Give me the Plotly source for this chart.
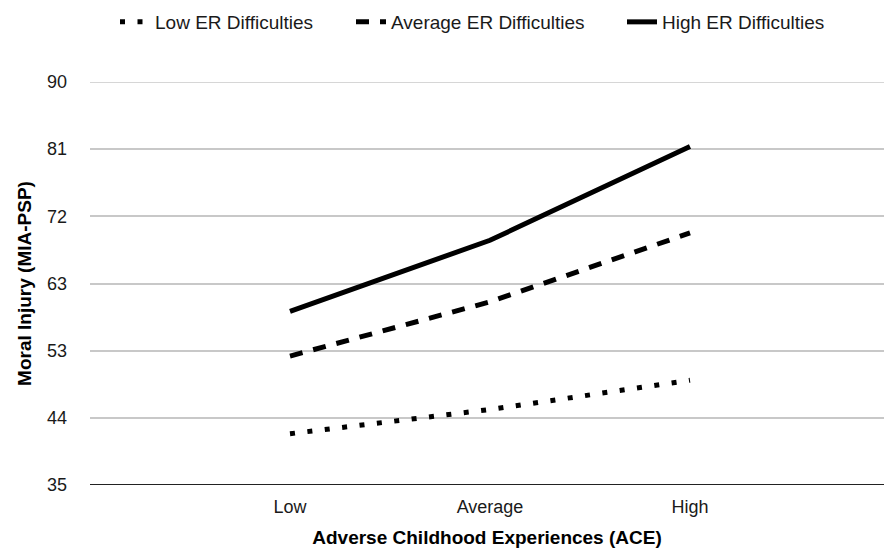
import plotly.graph_objects as go

categories = ["Low", "Average", "High"]
low_er = [42.0, 45.3, 49.3]
avg_er = [52.6, 60.0, 69.4]
high_er = [58.7, 68.4, 81.2]
series_names = ["Low ER Difficulties", "Average ER Difficulties", "High ER Difficulties"]
y_tickvals = [35 + i * 55 / 6 for i in range(7)]
y_ticktext = ["35", "44", "53", "63", "72", "81", "90"]

FONT = "Liberation Sans, Arial, Helvetica, sans-serif"
INK = "#1a1a1a"
GRID = "#c8c8c8"

fig = go.Figure()
styles = [
    dict(dash="5px,12.5px", width=5, legend="legend", lx=115),
    dict(dash="13px,11px", width=5, legend="legend2", lx=351),
    dict(dash="solid", width=5, legend="legend3", lx=622),
]
for name, vals, st in zip(series_names, [low_er, avg_er, high_er], styles):
    fig.add_trace(go.Scatter(
        x=categories, y=vals, mode="lines", name=name, legend=st["legend"],
        line=dict(color="black", width=st["width"], dash=st["dash"]),
        hoverinfo="skip",
    ))

legend_common = dict(
    orientation="h", xref="container", yref="container",
    xanchor="left", y=1 - 22 / 552, yanchor="middle",
    font=dict(size=19, color=INK), bgcolor="rgba(0,0,0,0)",
    itemclick=False, itemdoubleclick=False,
)
fig.update_layout(
    width=884, height=552,
    margin=dict(l=90, r=0, t=82, b=67),
    paper_bgcolor="white", plot_bgcolor="white",
    font=dict(family=FONT, size=18, color=INK),
    showlegend=True,
    legend=dict(x=styles[0]["lx"] / 884, **legend_common),
    legend2=dict(x=styles[1]["lx"] / 884, **legend_common),
    legend3=dict(x=styles[2]["lx"] / 884, **legend_common),
)
fig.update_xaxes(
    type="category", range=[-1, 2.97],
    showgrid=False, zeroline=False,
    showline=False, ticks="", ticklabelstandoff=9,
    tickfont=dict(size=18, color=INK),
    title=dict(text="Adverse Childhood Experiences (ACE)",
               font=dict(size=19, weight="bold", color="black"), standoff=14),
)
fig.update_yaxes(
    range=[35, 90], tickvals=y_tickvals, ticktext=y_ticktext,
    showgrid=True, gridcolor=GRID, gridwidth=1.5,
    zeroline=False, showline=False, ticks="", ticklabelstandoff=22,
    tickfont=dict(size=18, color=INK),
    title=dict(text="Moral Injury (MIA-PSP)",
               font=dict(size=19, weight="bold", color="black"), standoff=10),
)
fig.add_hline(y=y_tickvals[-1], line=dict(color=GRID, width=1.5), layer="below")
fig.add_hline(y=y_tickvals[0], line=dict(color="#222222", width=2))

fig.write_html("out.html", config={"displayModeBar": False},
               post_script="document.body.style.margin='0';")
